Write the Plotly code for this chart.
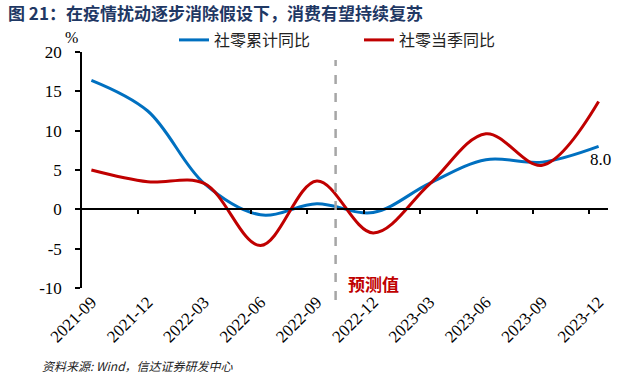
import plotly.graph_objects as go

# ---- data ----
quarters = ["2021-09", "2021-12", "2022-03", "2022-06", "2022-09",
            "2022-12", "2023-03", "2023-06", "2023-09", "2023-12"]
retail_cum_yoy = [16.4, 12.5, 3.3, -0.7, 0.7, -0.4, 3.3, 6.3, 6.0, 8.0]      # 社零累计同比
retail_qtr_yoy = [5.0, 3.5, 3.3, -4.6, 3.6, -3.0, 3.2, 9.6, 5.6, 13.7]      # 社零当季同比
forecast_start = "2022-10"
y_ticks = [-10, -5, 0, 5, 10, 15, 20]

title_text = "图 21：在疫情扰动逐步消除假设下，消费有望持续复苏"
source_text = "资料来源: Wind，信达证券研发中心"

def month_index(label, base="2021-09"):
    y, m = map(int, label.split("-"))
    by, bm = map(int, base.split("-"))
    return (y - by) * 12 + (m - bm)

xm = [month_index(q) for q in quarters]
x_fc = month_index(forecast_start)
boundaries = [m - 0.5 for m in xm[1:]]

W, H = 638, 385
ML, MR, MT, MB = 82, 30, 52, 97
PW, PH = W - ML - MR, H - MT - MB

def px_x(p):
    return (p - ML) / PW

def px_y(p):
    return (H - MB - p) / PH

BLUE = "#0070c0"
RED = "#c00000"
NUMF = "Liberation Serif, Times New Roman, Liberation Sans, Arial, sans-serif"
CJK = "Noto Sans CJK SC"

ymin, ymax = y_ticks[0], y_ticks[-1]

fig = go.Figure()
fig.add_trace(go.Scatter(x=xm, y=retail_cum_yoy, name="社零累计同比", mode="lines",
                         line=dict(color=BLUE, width=3, shape="spline", smoothing=1.0)))
fig.add_trace(go.Scatter(x=xm, y=retail_qtr_yoy, name="社零当季同比", mode="lines",
                         line=dict(color=RED, width=3, shape="spline", smoothing=1.0)))

xr = [xm[0] - 0.5, xm[-1] + 0.5]

fig.update_layout(
    width=W, height=H,
    margin=dict(l=ML, r=MR, t=MT, b=MB, autoexpand=False),
    paper_bgcolor="white", plot_bgcolor="white",
    showlegend=True,
    legend=dict(orientation="h", xref="container", yref="container",
                x=174 / W, y=1 - 40 / H, xanchor="left", yanchor="middle",
                font=dict(family=CJK, size=16, color="#222"),
                bgcolor="rgba(0,0,0,0)", entrywidth=140, entrywidthmode="pixels",
                tracegroupgap=0, itemwidth=30),
    title=dict(text="<b>" + title_text + "</b>", xref="container", yref="container",
               x=8 / W, y=1 - 14 / H, xanchor="left", yanchor="middle",
               font=dict(family=CJK, size=17, color="#1f3864")),
    xaxis=dict(range=xr, tickvals=xm, ticktext=quarters, tickangle=-45,
               ticks="", showline=False, showgrid=False, zeroline=False,
               tickfont=dict(family=NUMF, size=17, color="black")),
    xaxis2=dict(range=xr, overlaying="x", anchor="free", position=(0 - ymin) / (ymax - ymin),
                side="bottom", tickvals=boundaries, ticks="outside", ticklen=4, tickwidth=1.5,
                tickcolor="black", showticklabels=False, showline=True, linecolor="black",
                linewidth=1.5, showgrid=False, zeroline=False),
    yaxis=dict(range=[ymin, ymax], tickvals=y_ticks, ticktext=[str(v) for v in y_ticks],
               ticks="outside", ticklen=5, tickwidth=1.5,
               tickcolor="black", showline=True, linecolor="black", linewidth=1.5,
               showgrid=False, zeroline=False, ticklabelstandoff=10,
               tickfont=dict(family=NUMF, size=17, color="black")),
)

# invisible trace to make xaxis2 render
fig.add_trace(go.Scatter(x=[xr[0]], y=[0], xaxis="x2", mode="markers",
                         marker=dict(opacity=0), showlegend=False, hoverinfo="skip"))

fig.add_shape(type="line", x0=x_fc, x1=x_fc, xref="x", yref="paper",
              y0=px_y(300), y1=px_y(60), line=dict(color="#a6a6a6", width=2.5, dash="dash"))

fig.add_annotation(text="预测值", x=x_fc, xref="x", y=px_y(283), yref="paper",
                   xanchor="left", yanchor="middle", xshift=10, showarrow=False,
                   font=dict(family=CJK, size=17, color=RED, weight="bold"))
fig.add_annotation(text=f"{retail_cum_yoy[-1]:.1f}", x=xm[-1], y=retail_cum_yoy[-1],
                   xref="x", yref="y", xanchor="center", yanchor="middle",
                   xshift=2, yshift=-13, showarrow=False,
                   font=dict(family=NUMF, size=17, color="black"))
fig.add_annotation(text="%", x=px_x(71), y=px_y(37.5), xref="paper", yref="paper",
                   xanchor="center", yanchor="middle", showarrow=False,
                   font=dict(family=NUMF, size=16, color="black"))
fig.add_annotation(text="<i>" + source_text + "</i>", x=px_x(40), y=px_y(365),
                   xref="paper", yref="paper", xanchor="left", yanchor="middle",
                   showarrow=False, font=dict(family=CJK, size=12, color="#222"))

fig.write_html("out.html", config={"displayModeBar": False},
               post_script="document.body.style.margin='0px';")
